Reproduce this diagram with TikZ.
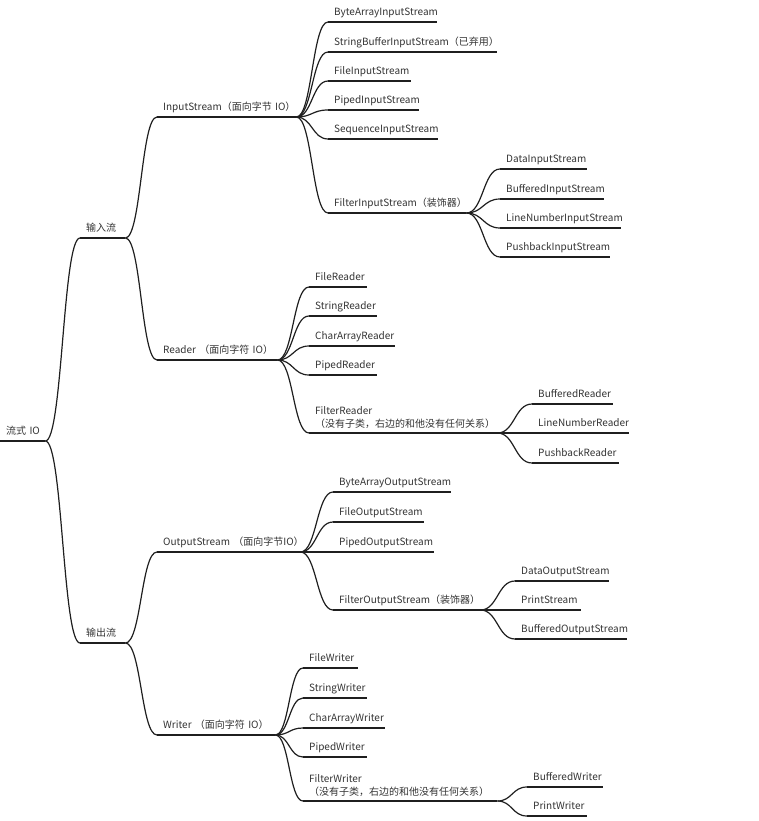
\documentclass[tikz,border=0pt]{standalone}
\usepackage{fontspec}
\setmainfont{Noto Sans CJK SC}
\usepackage{xcolor}
\definecolor{Ink}{HTML}{333333}
\definecolor{Wire}{HTML}{1F1F1F}
\usetikzlibrary{calc}
\tikzset{
  topic/.style={
    anchor=south west, inner xsep=6pt, inner ysep=4pt,
    text width=#1pt-12pt, align=left, text depth=2pt,
    font=\fontsize{10}{13}\selectfont, text=Ink
  },
  note/.style={topic=#1, text depth={}, inner ysep=4.5pt},
  uline/.style={line width=1.2pt, draw=Wire},
  branch/.style={
    uline,
    to path={let \p1=(\tikztostart), \p2=(\tikztotarget) in
      .. controls ({(\x1+\x2)/2},\y1) and ({(\x1+\x2)/2},\y2) .. (\tikztotarget)}
  },
}

\begin{document}
\begin{tikzpicture}[x=1pt, y=-1pt]
\useasboundingbox (0,0) rectangle (758,821);

% root and the two main branches
\node[topic=45] (root) at (0,441) {流式~IO};
\node[topic=45] (in) at (80,238) {输入流};
\node[topic=45] (out) at (80,643) {输出流};

% four abstract bases
\node[topic=139] (is) at (157,117) {InputStream（面向字节~IO）};
\node[topic=120] (rd) at (157,360) {Reader~（面向字符~IO）};
\node[topic=143] (os) at (157,552) {OutputStream~（面向字节IO）};
\node[topic=118] (wr) at (157,735) {Writer~（面向字符~IO）};

% InputStream family
\node[topic=109] (bais) at (328,22) {ByteArrayInputStream};
\node[topic=169] (sbis) at (328,52) {StringBufferInputStream（已弃用）};
\node[topic=83] (fis) at (328,81) {FileInputStream};
\node[topic=91] (pis) at (328,110) {PipedInputStream};
\node[topic=110] (sqis) at (328,139) {SequenceInputStream};
\node[topic=138] (fltis) at (328,213) {FilterInputStream（装饰器）};
\node[topic=87] (dis) at (500,169) {DataInputStream};
\node[topic=104] (bis) at (500,199) {BufferedInputStream};
\node[topic=121] (lnis) at (500,228) {LineNumberInputStream};
\node[topic=110] (pbis) at (500,257) {PushbackInputStream};

% Reader family
\node[topic=58] (fr) at (309,287) {FileReader};
\node[topic=68] (sr) at (309,316) {StringReader};
\node[topic=86] (car) at (309,346) {CharArrayReader};
\node[topic=68] (pr) at (309,375) {PipedReader};
\node[note=188] (fltr) at (309,433) {FilterReader\\（没有子类，右边的和他没有任何关系）};
\node[topic=81] (br) at (532,404) {BufferedReader};
\node[topic=97] (lnr) at (532,433) {LineNumberReader};
\node[topic=87] (pbr) at (532,463) {PushbackReader};

% OutputStream family
\node[topic=118] (baos) at (333,492) {ByteArrayOutputStream};
\node[topic=91] (fos) at (333,522) {FileOutputStream};
\node[topic=101] (pos) at (333,552) {PipedOutputStream};
\node[topic=147] (fltos) at (333,610) {FilterOutputStream（装饰器）};
\node[topic=94] (dos) at (515,581) {DataOutputStream};
\node[topic=66] (ps) at (515,610) {PrintStream};
\node[topic=112] (bos) at (515,639) {BufferedOutputStream};

% Writer family
\node[topic=55] (fw) at (303,668) {FileWriter};
\node[topic=64] (sw) at (303,698) {StringWriter};
\node[topic=82] (caw) at (303,728) {CharArrayWriter};
\node[topic=64] (pw) at (303,757) {PipedWriter};
\node[note=194] (fltw) at (303,801) {FilterWriter\\（没有子类，右边的和他没有任何关系）};
\node[topic=76] (bw) at (527,787) {BufferedWriter};
\node[topic=60] (pwr) at (527,816) {PrintWriter};

% underlines
\foreach \n in {root,in,out,is,rd,os,wr,bais,sbis,fis,pis,sqis,fltis,dis,bis,lnis,pbis,
  fr,sr,car,pr,fltr,br,lnr,pbr,baos,fos,pos,fltos,dos,ps,bos,fw,sw,caw,pw,fltw,bw,pwr}
  \draw[uline] (\n.south west) -- (\n.south east);

% branches
\foreach \a/\b in {root/in,root/out,in/is,in/rd,out/os,out/wr,
  is/bais,is/sbis,is/fis,is/pis,is/sqis,is/fltis,fltis/dis,fltis/bis,fltis/lnis,fltis/pbis,
  rd/fr,rd/sr,rd/car,rd/pr,rd/fltr,fltr/br,fltr/lnr,fltr/pbr,
  os/baos,os/fos,os/pos,os/fltos,fltos/dos,fltos/ps,fltos/bos,
  wr/fw,wr/sw,wr/caw,wr/pw,wr/fltw,fltw/bw,fltw/pwr}
  \draw[branch] (\a.south east) to (\b.south west);

\end{tikzpicture}
\end{document}
